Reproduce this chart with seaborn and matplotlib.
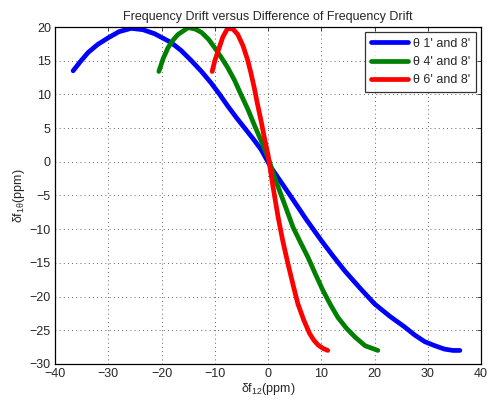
import numpy as np
import pandas as pd
import matplotlib
matplotlib.use("Agg")
import matplotlib.pyplot as plt
import seaborn as sns
from matplotlib.lines import Line2D

# ---- data ----
blue_x = [-36.6, -35.2, -33.8, -32.0, -30.0, -28.0, -25.7, -23.5, -21.3, -18.2, -16.3, -14.4,
          -12.5, -10.7, -9.1, -7.6, -6.0, -4.4, -2.8, -1.3, 0.6, 2.5, 4.4, 7.2, 10.0, 12.2, 14.4,
          17.2, 20.0, 22.8, 25.6, 27.5, 29.4, 31.3, 33.1, 34.7, 36.0]
blue_y = [13.5, 14.9, 16.2, 17.4, 18.4, 19.3, 19.8, 19.6, 19.0, 17.7, 16.5, 15.0,
          13.4, 11.7, 10.0, 8.3, 6.6, 5.0, 3.4, 1.8, -0.9, -3.1, -5.3, -8.6, -11.7, -14.0, -16.2,
          -18.7, -21.1, -22.9, -24.5, -25.7, -26.7, -27.3, -27.8, -28.0, -28.0]

green_x = [-20.5, -19.7, -18.8, -17.9, -16.9, -15.0, -13.7, -12.5, -11.2, -10.0, -8.8, -7.6,
           -6.3, -5.1, -3.8, -2.6, -1.3, 0.0, 1.25, 3.0, 4.7, 6.1, 7.5, 8.9, 10.3, 11.7, 13.1,
           14.7, 16.3, 18.2, 20.6]
green_y = [13.4, 15.3, 16.9, 18.0, 18.9, 19.9, 19.7, 19.2, 18.2, 16.9, 15.5, 14.0,
           12.1, 10.0, 7.8, 5.5, 3.1, 0.6, -2.4, -6.1, -9.75, -12.0, -14.2, -16.7, -19.1, -21.2, -23.1,
           -24.7, -26.0, -27.3, -28.0]

red_x = [-10.5, -10.0, -9.4, -8.5, -7.6, -6.6, -5.7, -4.7, -3.8, -3.2, -2.6, -2.0, -1.3,
         -0.6, 0.0, 0.9, 1.9, 2.8, 3.75, 4.7, 5.6, 6.7, 7.8, 8.6, 9.4, 10.3, 11.2]
red_y = [13.4, 15.0, 16.4, 18.5, 19.8, 19.7, 18.9, 17.2, 15.0, 13.1, 11.0, 8.6, 6.0,
         3.2, 1.0, -3.6, -8.3, -11.9, -15.2, -18.3, -21.1, -23.5, -25.5, -26.5, -27.2, -27.7, -28.0]

labels = ["\u03b8 1' and 8'", "\u03b8 4' and 8'", "\u03b8 6' and 8'"]
colors = ["#0000ff", "#008000", "#ff0000"]

xticks = [-40, -30, -20, -10, 0, 10, 20, 30, 40]
yticks = [-30, -25, -20, -15, -10, -5, 0, 5, 10, 15, 20]

df = pd.concat([
    pd.DataFrame({"x": blue_x, "y": blue_y, "s": labels[0]}),
    pd.DataFrame({"x": green_x, "y": green_y, "s": labels[1]}),
    pd.DataFrame({"x": red_x, "y": red_y, "s": labels[2]}),
], ignore_index=True)

sns.set_style("white")
plt.rcParams["font.family"] = ["Liberation Sans", "DejaVu Sans"]
plt.rcParams["mathtext.fontset"] = "custom"
plt.rcParams["mathtext.rm"] = "Liberation Sans"
plt.rcParams["mathtext.it"] = "Liberation Sans"

fig = plt.figure(figsize=(4.91, 4.03), dpi=100)
ax = fig.add_axes([0.112, 0.097, 0.868, 0.836])

sns.lineplot(data=df, x="x", y="y", hue="s", palette=dict(zip(labels, colors)),
             sort=False, estimator=None, linewidth=3.4, ax=ax, legend=False)

ax.set_xlim(-40, 40)
ax.set_ylim(-30, 20)
ax.set_xticks(xticks)
ax.set_yticks(yticks)
ax.set_xticklabels([("\u2212" + str(-t)) if t < 0 else str(t) for t in xticks], fontsize=9)
ax.set_yticklabels([("\u2212" + str(-t)) if t < 0 else str(t) for t in yticks], fontsize=9)
ax.tick_params(direction="in", length=3, width=0.6, top=True, right=True, pad=3)
ax.grid(True, linestyle=(0, (1, 4)), color="#333333", linewidth=0.6)
for sp in ax.spines.values():
    sp.set_visible(True)
    sp.set_color("black")
    sp.set_linewidth(0.9)

ax.set_xlabel("\u03b4f$_{12}$(ppm)", fontsize=9, labelpad=1)
ax.set_ylabel("\u03b4f$_{1\u03b8}$(ppm)", fontsize=9, labelpad=2)
ax.set_title("Frequency Drift versus Difference of Frequency Drift", fontsize=9, pad=5)

handles = [Line2D([0], [0], color=c, linewidth=3.4) for c in colors]
leg = ax.legend(handles, labels, loc="upper right", fontsize=9, frameon=True, fancybox=False,
                edgecolor="black", handlelength=3.0, handletextpad=0.4, borderpad=0.45,
                labelspacing=0.5, borderaxespad=0.4)
leg.get_frame().set_linewidth(0.9)

fig.savefig("out.png", dpi=100, facecolor="white")
